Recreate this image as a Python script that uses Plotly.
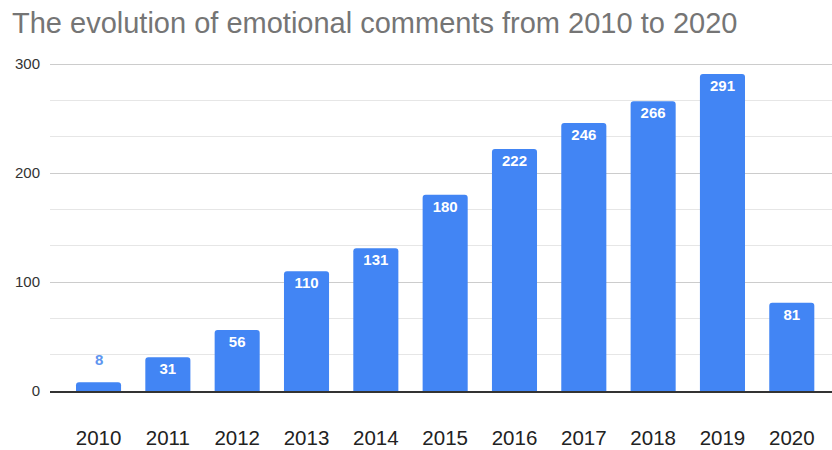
import plotly.graph_objects as go

years = ["2010", "2011", "2012", "2013", "2014", "2015", "2016", "2017", "2018", "2019", "2020"]
comments = [8, 31, 56, 110, 131, 180, 222, 246, 266, 291, 81]
title_text = "The evolution of emotional comments from 2010 to 2020"

BAR = "#4285F4"
threshold = 20  # values below this get their label outside the bar

inside_text = [str(v) if v >= threshold else "" for v in comments]

fig = go.Figure()
fig.add_trace(go.Bar(
    x=years, y=comments,
    marker=dict(color=BAR, line=dict(width=0), cornerradius=3),
    text=inside_text,
    textposition="inside",
    insidetextanchor="end",
    textangle=0,
    insidetextfont=dict(color="white", size=15, family="Liberation Sans, Arial, sans-serif", weight="bold"),
    hoverinfo="skip",
))

for i, v in enumerate(comments):
    if v < threshold:
        fig.add_annotation(x=i, y=v, xref="x", yref="y", text=str(v), showarrow=False, yshift=23,
                           yanchor="middle",
                           font=dict(color="#5e95f0", size=15, family="Liberation Sans, Arial, sans-serif", weight="bold"))

fig.update_layout(
    width=832, height=450,
    margin=dict(l=50, r=0, t=63, b=59, autoexpand=False),
    paper_bgcolor="white", plot_bgcolor="white",
    bargap=0.35,
    showlegend=False,
    title=dict(text=title_text, x=12/832, xanchor="left", xref="container",
               y=1-23/450, yanchor="middle", yref="container",
               font=dict(family="Liberation Sans, Arial, sans-serif", size=29, color="#757575")),
    font=dict(family="Liberation Sans, Arial, sans-serif"),
)
fig.update_xaxes(
    type="category", range=[-0.70, 10.58], automargin=False,
    showline=True, linecolor="#333333", linewidth=1.5,
    showgrid=False, ticks="", ticklabelstandoff=28,
    tickfont=dict(size=20.5, color="#222222"),
)
fig.update_yaxes(
    range=[0, 301], dtick=100, tick0=0, automargin=False,
    showgrid=True, gridcolor="#cccccc", gridwidth=1,
    minor=dict(dtick=100/3, showgrid=True, gridcolor="#e6e6e6", gridwidth=1),
    zeroline=False, showline=False, ticks="", ticklabelstandoff=9,
    tickfont=dict(size=15, color="#333333"),
)

fig.write_html("out.html", config={"displayModeBar": False},
               post_script="document.body.style.margin='0';document.body.style.overflow='hidden';")
